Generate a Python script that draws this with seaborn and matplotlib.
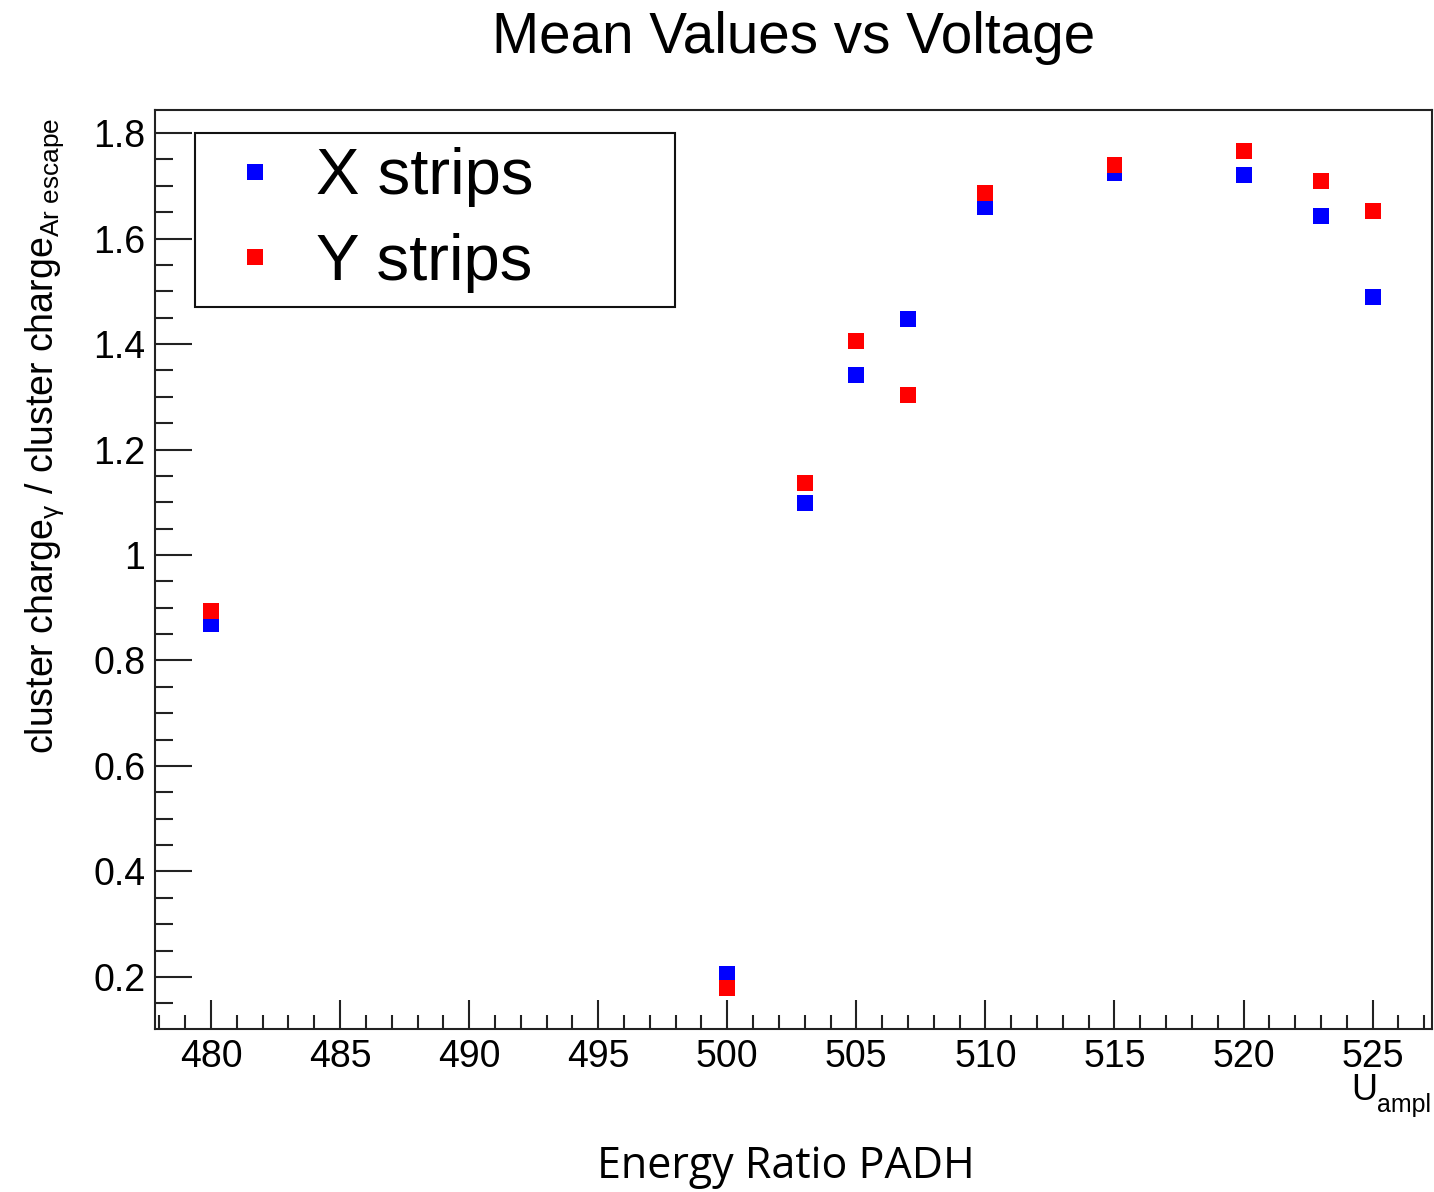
import numpy as np
import pandas as pd
import matplotlib
matplotlib.use("Agg")
import matplotlib.pyplot as plt
from matplotlib.ticker import MultipleLocator, FixedLocator
import seaborn as sns

# ---- data ----
voltage = [480, 500, 503, 505, 507, 510, 515, 520, 523, 525]
x_strips = [0.870, 0.206, 1.098, 1.341, 1.447, 1.660, 1.724, 1.720, 1.642, 1.489]
y_strips = [0.893, 0.179, 1.136, 1.405, 1.303, 1.686, 1.739, 1.766, 1.709, 1.652]
series_names = ["X strips", "Y strips"]
series_colors = ["#0000ff", "#ff0000"]
x_ticks = [480, 485, 490, 495, 500, 505, 510, 515, 520, 525]
y_ticks = [0.2, 0.4, 0.6, 0.8, 1.0, 1.2, 1.4, 1.6, 1.8]
y_tick_labels = ["0.2", "0.4", "0.6", "0.8", "1", "1.2", "1.4", "1.6", "1.8"]

df = pd.DataFrame({
    "U": voltage * 2,
    "ratio": x_strips + y_strips,
    "series": [series_names[0]] * len(voltage) + [series_names[1]] * len(voltage),
})

sns.set_theme(style="ticks")
plt.rcParams["font.family"] = ["Liberation Sans", "DejaVu Sans"]
plt.rcParams["mathtext.fontset"] = "custom"
plt.rcParams["mathtext.rm"] = "Liberation Sans"
plt.rcParams["mathtext.it"] = "Liberation Sans:italic"
plt.rcParams["mathtext.sf"] = "Liberation Sans"
for k in ["text.color", "axes.labelcolor", "xtick.color", "ytick.color", "axes.edgecolor"]:
    plt.rcParams[k] = "black"

W, H = 1434, 1192
fig = plt.figure(figsize=(W / 100, H / 100), dpi=100)
ax = fig.add_axes([155 / W, 1 - 1029 / H, (1432 - 155) / W, (1029 - 110) / H])

sns.scatterplot(data=df, x="U", y="ratio", hue="series", hue_order=series_names,
                palette=series_colors, marker="s", s=132, linewidth=0,
                ax=ax, legend=True, zorder=3)

ax.set_xlim(477.83, 527.3)
ax.set_ylim(0.1013, 1.8437)
ax.xaxis.set_major_locator(FixedLocator(x_ticks))
ax.xaxis.set_minor_locator(MultipleLocator(1))
ax.yaxis.set_major_locator(FixedLocator(y_ticks))
ax.yaxis.set_minor_locator(MultipleLocator(0.05))
ax.set_yticklabels(y_tick_labels)
ax.set_xticklabels([str(t) for t in x_ticks])

ax.tick_params(axis="both", which="both", direction="in", color="#222222",
               labelcolor="black", width=1.5, labelsize=27, top=False, right=False)
ax.tick_params(axis="x", which="major", length=21, pad=7.5)
ax.tick_params(axis="x", which="minor", length=10)
ax.tick_params(axis="y", which="major", length=26.6, pad=7)
ax.tick_params(axis="y", which="minor", length=13)
for sp in ax.spines.values():
    sp.set_visible(True)
    sp.set_linewidth(1.5)
    sp.set_color("#222222")

ax.set_xlabel("")
ax.set_ylabel("")

# legend
fs = 47
leg = ax.legend(loc="upper left",
                bbox_to_anchor=((195 - 155) / 1277, (1029 - 133) / 919, (675 - 195) / 1277, 0.0),
                mode="expand", fontsize=fs, frameon=True, fancybox=False,
                edgecolor="#111111", framealpha=1, borderpad=0.22, labelspacing=0.39,
                handlelength=1.41, handletextpad=0.23, borderaxespad=0.0,
                markerscale=1.0)
leg.get_frame().set_linewidth(1.5)
leg.set_title(None)
for t in leg.get_texts():
    t.set_color("black")

# titles
fig.text(794 / W, 1 - 53 / H, "Mean Values vs Voltage", ha="center", va="baseline",
         fontsize=40.8)
fig.text(0.031, 1 - 118 / H,
         r"cluster charge$_{\mathrm{γ}}$ / cluster charge$_{\mathrm{Ar\ escape}}$",
         rotation=90, ha="center", va="top", fontsize=27)
fig.text(1376 / W, 1 - 1100 / H, r"$\mathrm{U}$", ha="right", va="baseline",
         fontsize=26)
fig.text(1377 / W, 1 - 1112 / H, "ampl", ha="left", va="baseline", fontsize=18)
fig.text(786 / W, 1 - 1178 / H, "Energy Ratio PADH", ha="center", va="baseline",
         fontsize=31, family=["Open Sans", "DejaVu Sans"])

fig.savefig("out.png", dpi=100, facecolor="white")
